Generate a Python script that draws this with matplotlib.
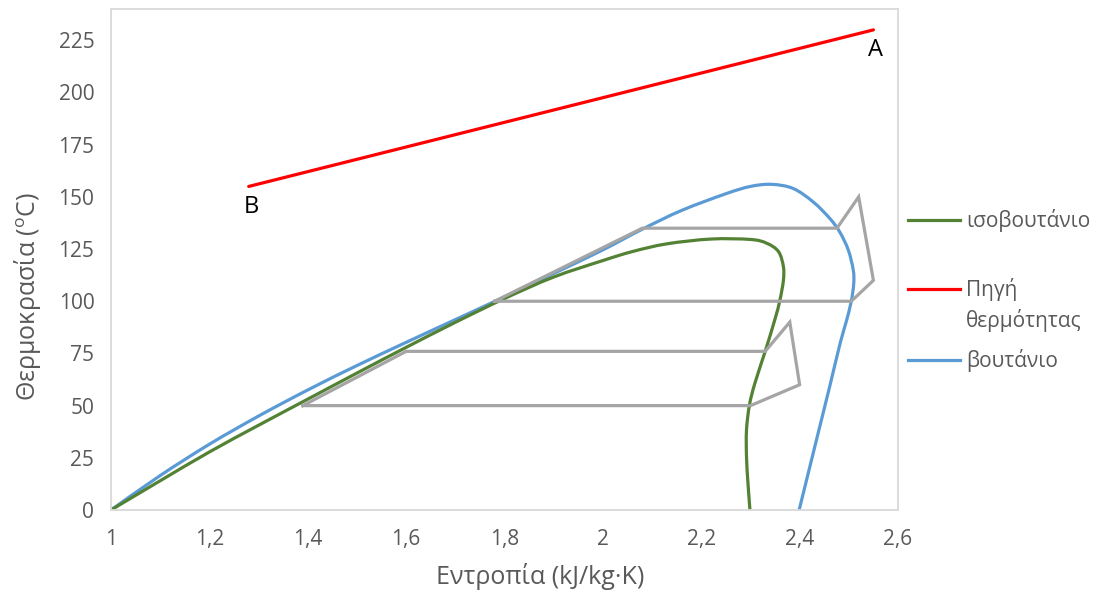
import matplotlib
matplotlib.use("Agg")
import matplotlib.pyplot as plt
from matplotlib.lines import Line2D
from matplotlib.path import Path
from matplotlib.patches import PathPatch
from matplotlib.ticker import FixedLocator, FixedFormatter

plt.rcParams["font.family"] = ["Open Sans", "DejaVu Sans"]

# Saturation dome of butane (entropy kJ/kg·K, temperature °C)
butane_s = [1.0, 1.1, 1.2, 1.3, 1.4, 1.5, 1.6, 1.7, 1.8, 1.9, 2.0, 2.08, 2.16, 2.25, 2.30,
            2.343, 2.387, 2.428, 2.462, 2.482, 2.499, 2.509, 2.510, 2.505, 2.4945, 2.4825,
            2.462, 2.441, 2.420, 2.399]
butane_t = [0, 16.5, 31.5, 45, 57.5, 69.2, 80.3, 91.2, 102.1, 113.3, 124.6, 134.5, 143.5, 151.5, 155,
            156, 154, 147.5, 139.5, 133, 124.5, 115, 108.5, 100, 90, 80,
            60, 40, 20, 0]

# Saturation dome of isobutane
isobutane_s = [1.0, 1.1, 1.2, 1.3, 1.4, 1.5, 1.6, 1.7, 1.8, 1.9, 2.0, 2.06, 2.13, 2.22,
               2.30, 2.333, 2.357, 2.367, 2.367, 2.36, 2.35, 2.33, 2.309, 2.298, 2.292,
               2.292, 2.295, 2.299]
isobutane_t = [0, 14, 27.8, 40.6, 53.1, 65.6, 77.9, 89.9, 101.3, 111.6, 119.5, 123.8, 127.5, 129.8,
               129.6, 127.8, 123.8, 116.6, 110, 100.6, 91.5, 76, 60.7, 50.3, 38.3,
               25.5, 12.8, 0]

# Heat source line from B to A
source_s = [1.28, 2.55]
source_t = [155, 230]

# ORC cycles
cycle_iso_s = [1.39, 2.30, 2.40, 2.38, 2.33, 1.60, 1.39]
cycle_iso_t = [50, 50, 60, 90, 76, 76, 50]
cycle_but_s = [1.78, 2.505, 2.55, 2.52, 2.476, 2.08, 1.78]
cycle_but_t = [100, 100, 110, 150, 135, 135, 100]

x_ticks = [1.0, 1.2, 1.4, 1.6, 1.8, 2.0, 2.2, 2.4, 2.6]
x_tick_labels = ["1", "1,2", "1,4", "1,6", "1,8", "2", "2,2", "2,4", "2,6"]
y_ticks = [0, 25, 50, 75, 100, 125, 150, 175, 200, 225]

GREEN = "#548235"
RED = "#FF0000"
BLUE = "#5B9BD5"
GRAY = "#A5A5A5"
TEXT = "#595959"
LW = 2.3


def smooth_path(xs, ys):
    """Smoothed line through the points (Catmull-Rom segments as cubic Beziers)."""
    pts = list(zip(xs, ys))
    verts = [pts[0]]
    codes = [Path.MOVETO]
    n = len(pts)
    for i in range(n - 1):
        p0 = pts[i - 1] if i > 0 else pts[i]
        p1 = pts[i]
        p2 = pts[i + 1]
        p3 = pts[i + 2] if i + 2 < n else pts[i + 1]
        c1 = (p1[0] + (p2[0] - p0[0]) / 6, p1[1] + (p2[1] - p0[1]) / 6)
        c2 = (p2[0] - (p3[0] - p1[0]) / 6, p2[1] - (p3[1] - p1[1]) / 6)
        verts += [c1, c2, p2]
        codes += [Path.CURVE4] * 3
    return Path(verts, codes)


fig = plt.figure(figsize=(10.96, 5.96), dpi=100)
ax = fig.add_axes([111 / 1096, 1 - 510 / 596, (898 - 111) / 1096, (510 - 9) / 596])

ax.plot(cycle_iso_s, cycle_iso_t, color=GRAY, lw=LW, solid_joinstyle="miter")
ax.plot(cycle_but_s, cycle_but_t, color=GRAY, lw=LW, solid_joinstyle="miter")
ax.add_patch(PathPatch(smooth_path(butane_s, butane_t), fill=False, edgecolor=BLUE, lw=LW,
                       capstyle="round"))
ax.add_patch(PathPatch(smooth_path(isobutane_s, isobutane_t), fill=False, edgecolor=GREEN, lw=LW,
                       capstyle="round"))
ax.plot(source_s, source_t, color=RED, lw=LW, solid_capstyle="round")

ax.text(source_s[1] + 0.005, source_t[1] - 4, "A", fontsize=17, color="black", ha="center", va="top")
ax.text(source_s[0] + 0.005, source_t[0] - 4, "B", fontsize=17, color="black", ha="center", va="top")

ax.set_xlim(1.0, 2.6)
ax.set_ylim(0, 240)
ax.xaxis.set_major_locator(FixedLocator(x_ticks))
ax.xaxis.set_major_formatter(FixedFormatter(x_tick_labels))
ax.set_yticks(y_ticks)
ax.tick_params(length=0, labelsize=15, labelcolor=TEXT, pad=12)
ax.tick_params(axis="x", pad=14)
for spine in ax.spines.values():
    spine.set_color("#D9D9D9")
    spine.set_linewidth(1.3)

fig.text(28 / 1096, 1 - 297 / 596, "Θερμοκρασία ($\\mathregular{^o}$C)", rotation=90,
         fontsize=18, color=TEXT, ha="center", va="center")
fig.text(540 / 1096, 1 - 577 / 596, "Εντροπία (kJ/kg·K)", fontsize=18, color=TEXT,
         ha="center", va="center")

# legend drawn at the right of the plot area
legend_items = [
    (GREEN, "ισοβουτάνιο", 220),
    (RED, "Πηγή\nθερμότητας", 289),
    (BLUE, "βουτάνιο", 360),
]
for color, label, ypix in legend_items:
    yf = 1 - ypix / 596
    fig.add_artist(Line2D([908 / 1096, 960 / 1096], [yf, yf], color=color, lw=LW,
                          transform=fig.transFigure))
    fig.text(966 / 1096, yf + 11 / 596, label, fontsize=15, color=TEXT, ha="left", va="top",
             linespacing=1.45)

fig.savefig("out.png", dpi=100)
